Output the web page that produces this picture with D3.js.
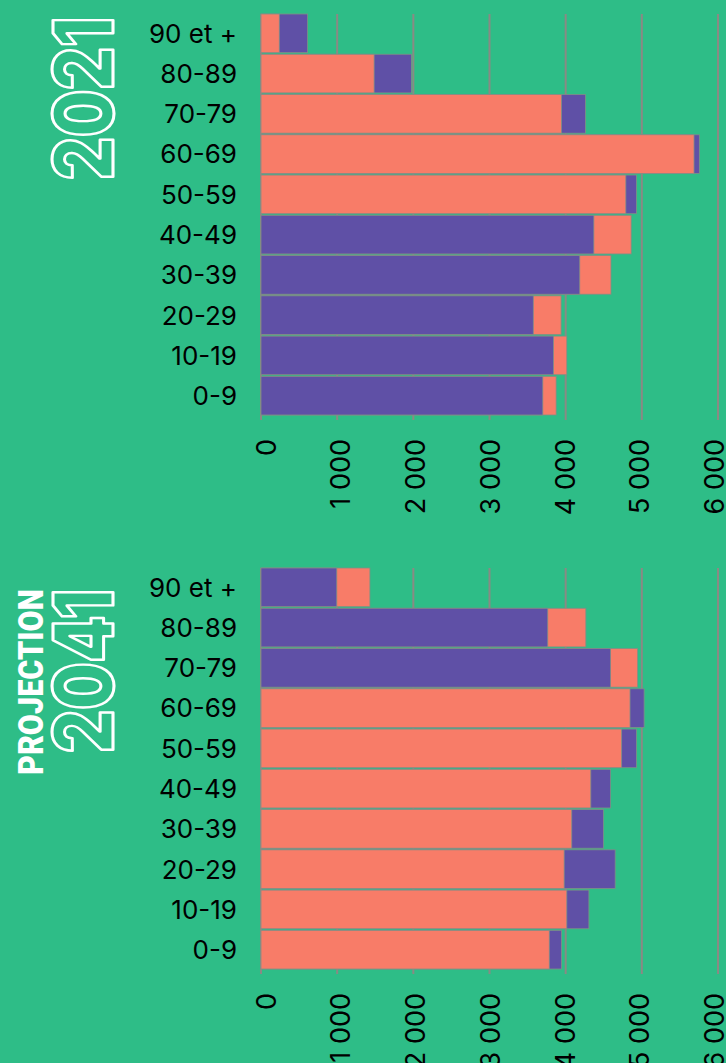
<!DOCTYPE html>
<html>
<head>
<meta charset="utf-8">
<script src="https://cdn.jsdelivr.net/npm/d3@7"></script>
<style>
  html, body { margin: 0; padding: 0; background: #2ebd87; }
  svg { display: block; }
</style>
</head>
<body>
<div class="d3Chart"></div>
<script>
const ages = ['90 et +', '80-89', '70-79', '60-69', '50-59', '40-49', '30-39', '20-29', '10-19', '0-9']
const salmon2021 = [240, 1485, 3945, 5685, 4790, 4860, 4595, 3940, 4015, 3875]
const purple2021 = [612, 1975, 4260, 5755, 4930, 4370, 4185, 3575, 3840, 3700]
const salmon2041 = [1430, 4265, 4945, 4845, 4735, 4330, 4080, 3980, 4015, 3785]
const purple2041 = [995, 3765, 4590, 5030, 4930, 4590, 4495, 4650, 4305, 3945]
const ticks = [0, 1000, 2000, 3000, 4000, 5000, 6000]

const width = 726
const height = 1063
const colors = { salmon: '#f87c68', purple: '#5f50a6', grid: '#8a8a84' }

const fr = d3.formatLocale({ decimal: ',', thousands: ' ', grouping: [3], currency: ['', ' €'] })
const fmt = fr.format(',')

const root = d3.select('.d3Chart')
  .append('svg')
  .attr('width', width)
  .attr('height', height)

root.append('rect')
  .attr('width', width)
  .attr('height', height)
  .attr('fill', '#2ebd87')

const x = d3.scaleLinear().domain([0, 6000]).range([261, 718])
// tick labels sit slightly off the grid in the original
const xLabel = d3.scaleLinear().domain([0, 6000]).range([265.7, 714])

function drawPanel (top, bottom, salmon, purple) {
  const y = d3.scaleBand().domain(ages).range([top, bottom]).paddingInner(0.04)
  const g = root.append('g')

  // grid
  g.append('g')
    .selectAll('line')
    .data(ticks)
    .enter()
    .append('line')
    .attr('x1', d => x(d))
    .attr('x2', d => x(d))
    .attr('y1', top)
    .attr('y2', bottom + 5)
    .attr('stroke', colors.grid)
    .attr('stroke-width', 2)

  // bars : the longer one behind, the shorter one in front
  const rows = ages.map((a, i) => {
    const pair = [
      { age: a, value: salmon[i], color: colors.salmon },
      { age: a, value: purple[i], color: colors.purple }
    ]
    return pair.sort((p, q) => q.value - p.value)
  })
  g.append('g')
    .selectAll('rect')
    .data(rows.flat())
    .enter()
    .append('rect')
    .attr('x', x(0))
    .attr('y', d => y(d.age))
    .attr('width', d => x(d.value) - x(0))
    .attr('height', y.bandwidth())
    .attr('fill', d => d.color)
    .attr('stroke', '#7f8f86')
    .attr('stroke-width', 0.8)

  // age labels
  g.append('g')
    .selectAll('text')
    .data(ages)
    .enter()
    .append('text')
    .attr('x', 237)
    .attr('y', d => y(d) + y.bandwidth() / 2)
    .attr('dy', '0.36em')
    .attr('text-anchor', 'end')
    .attr('font-family', 'Inter, sans-serif')
    .attr('font-size', 26)
    .attr('fill', '#000')
    .text(d => d)

  // value labels, rotated
  g.append('g')
    .selectAll('text')
    .data(ticks)
    .enter()
    .append('text')
    .attr('transform', d => `translate(${xLabel(d) + 10},${bottom + 24}) rotate(-90)`)
    .attr('text-anchor', 'end')
    .attr('font-family', 'Inter, sans-serif')
    .attr('font-size', 27)
    .attr('fill', '#000')
    .text(d => fmt(d))
}

drawPanel(14, 415, salmon2021, purple2021)
drawPanel(568, 969, salmon2041, purple2041)

// titles
function outlineTitle (txt, cx, cy, len) {
  root.append('text')
    .attr('transform', `translate(${cx},${cy}) rotate(-90)`)
    .attr('text-anchor', 'middle')
    .attr('font-family', 'Inter, sans-serif')
    .attr('font-weight', 900)
    .attr('font-size', 82)
    .attr('textLength', len)
    .attr('lengthAdjust', 'spacingAndGlyphs')
    .attr('fill', 'none')
    .attr('stroke', '#fff')
    .attr('stroke-width', 3)
    .attr('stroke-linejoin', 'round')
    .text(txt)
}
outlineTitle('2021', 113, 98.5, 163)
outlineTitle('2041', 113, 671, 164)

root.append('text')
  .attr('transform', 'translate(42.7,682) rotate(-90)')
  .attr('text-anchor', 'middle')
  .attr('font-family', 'Roboto, sans-serif')
  .attr('font-weight', 900)
  .attr('font-size', 35)
  .attr('textLength', 186)
  .attr('lengthAdjust', 'spacingAndGlyphs')
  .attr('fill', '#fff')
  .text('PROJECTION')
</script>
</body>
</html>
